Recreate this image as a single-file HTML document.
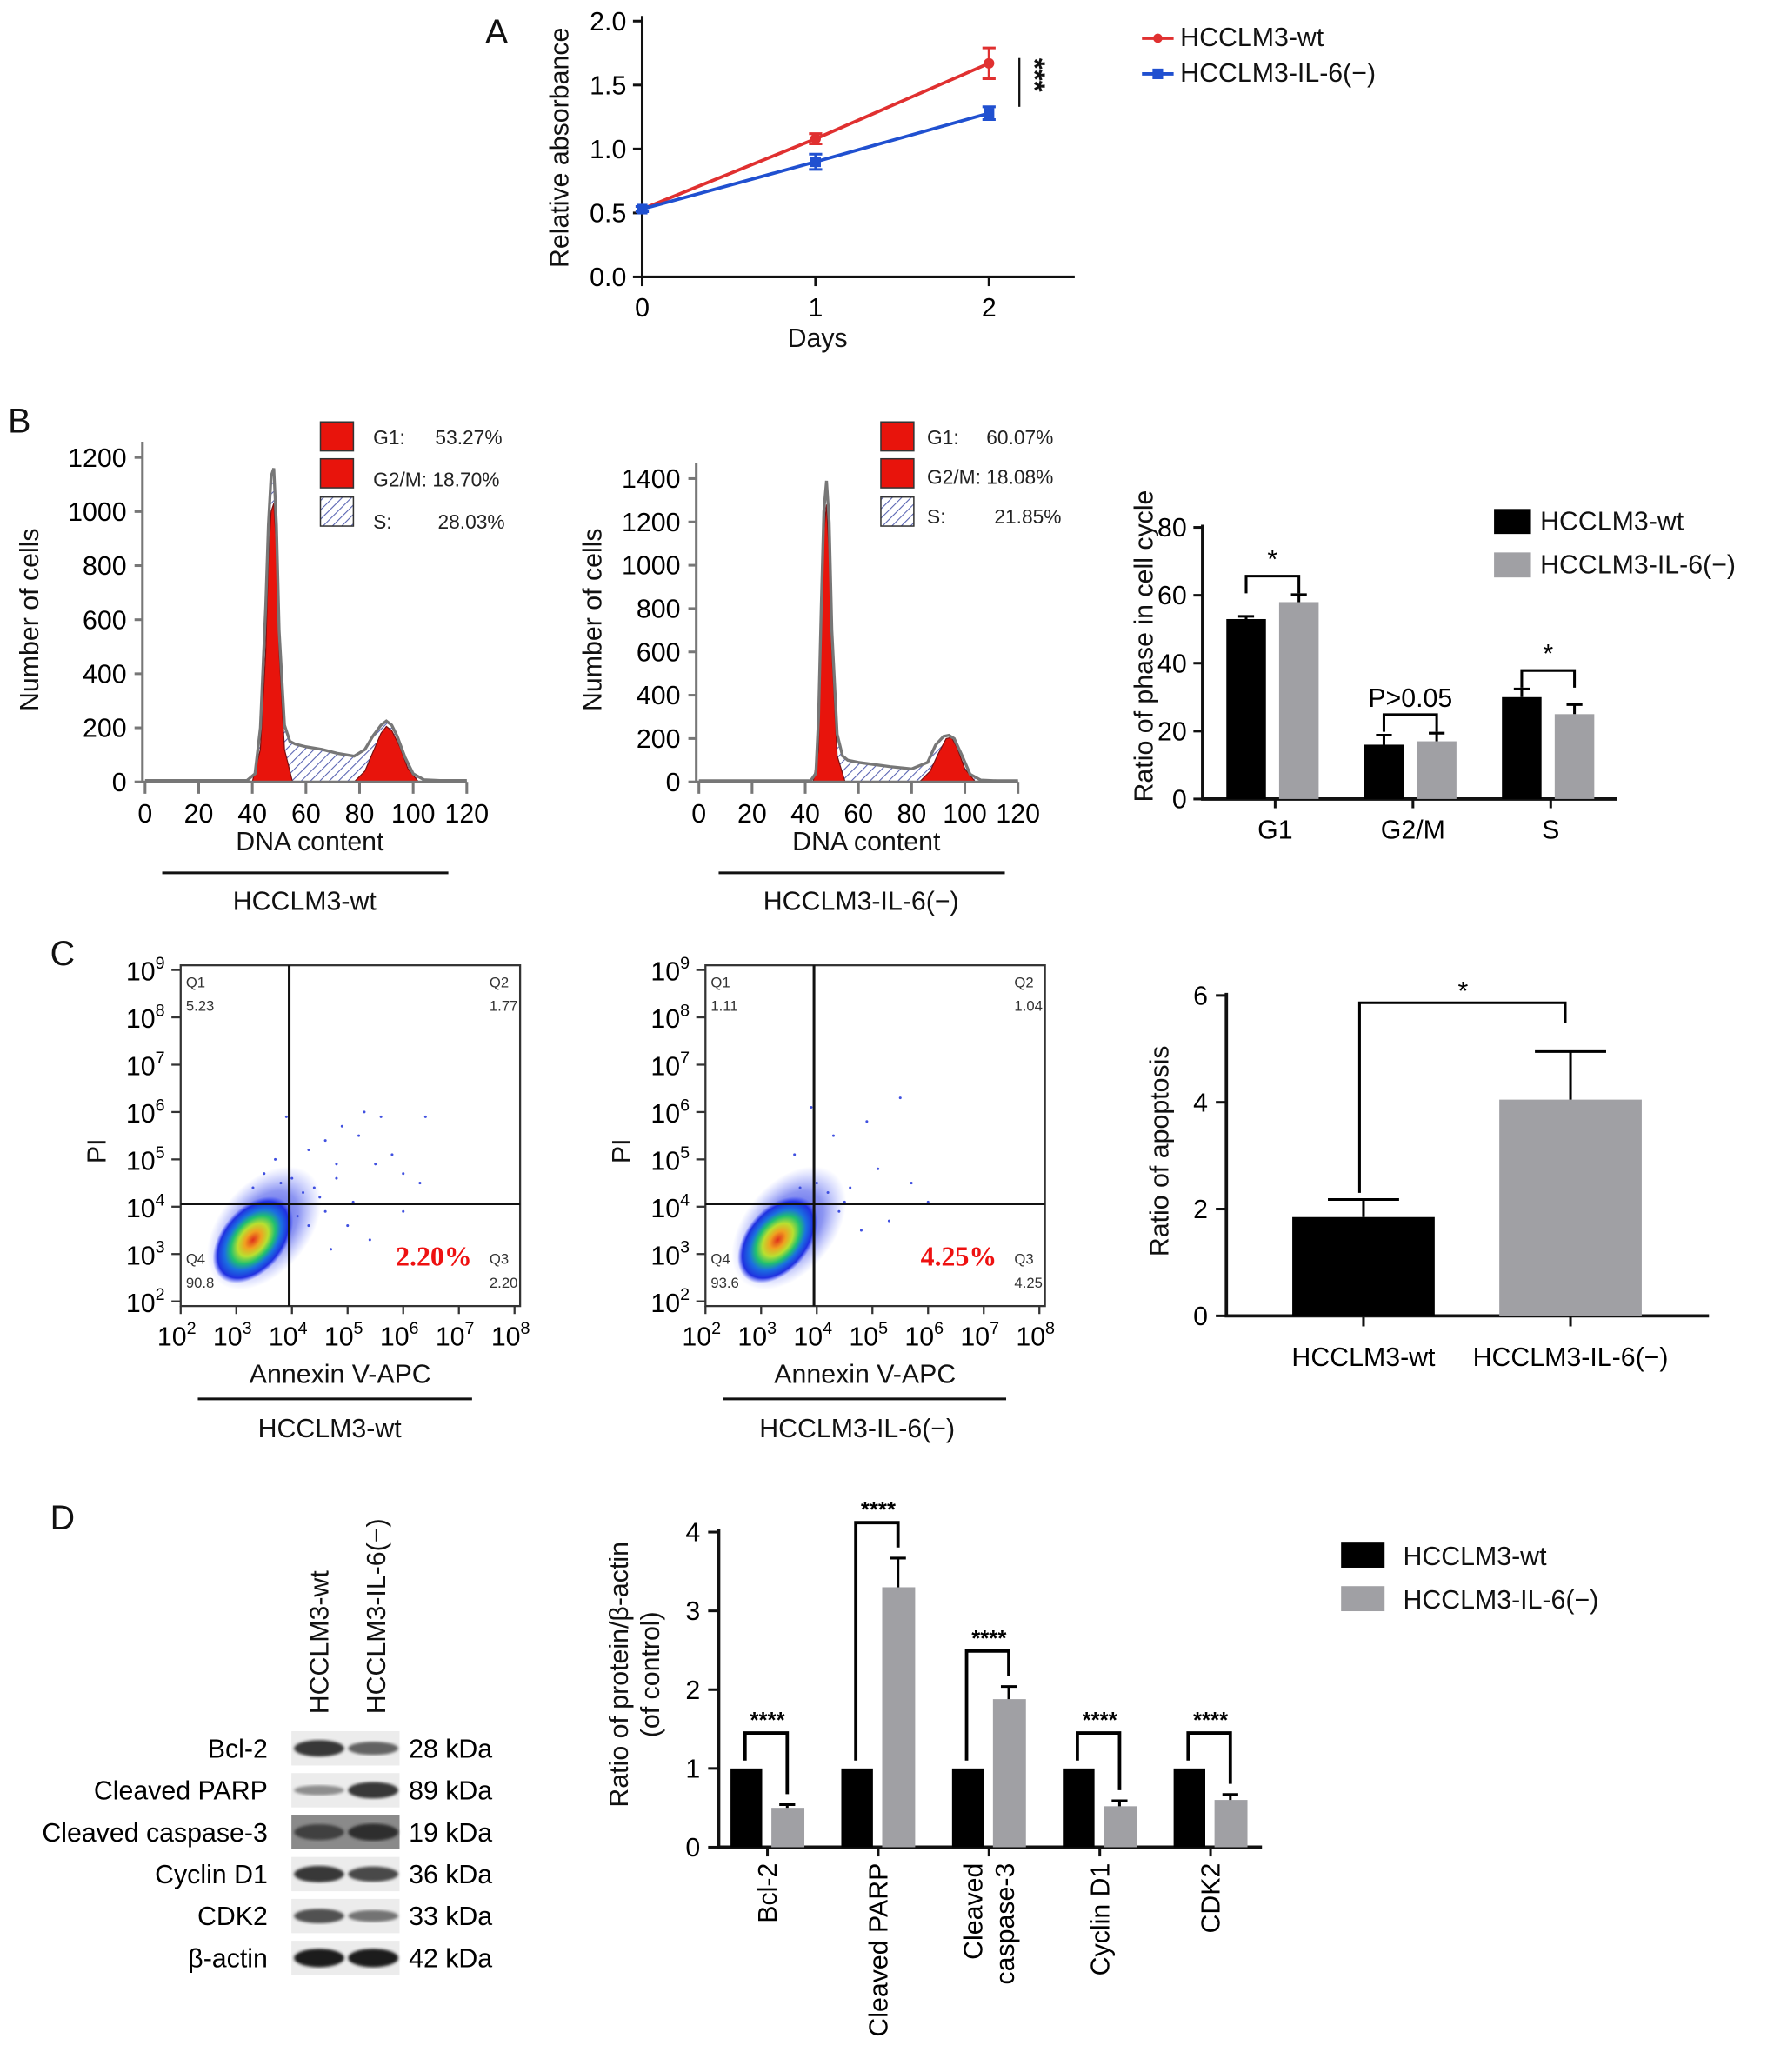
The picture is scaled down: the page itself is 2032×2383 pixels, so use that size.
<!DOCTYPE html>
<html><head><meta charset="utf-8"><style>
html,body{margin:0;padding:0;background:#fff}
svg{display:block;font-family:"Liberation Sans",Arial,sans-serif}
</style></head><body>
<svg id="fig" xmlns="http://www.w3.org/2000/svg" width="2032" height="2383" viewBox="0 0 1340 1571.5">
<defs>
<pattern id="hatch" patternUnits="userSpaceOnUse" width="5" height="5" patternTransform="rotate(45)"><rect width="5" height="5" fill="#fff"/><line x1="0" y1="0" x2="0" y2="5" stroke="#5560b0" stroke-width="1.4"/></pattern>
<filter id="blur2"><feGaussianBlur stdDeviation="2.2"/></filter>
<filter id="blur1"><feGaussianBlur stdDeviation="1"/></filter>
<radialGradient id="heat" cx="50%" cy="50%" r="50%"><stop offset="0" stop-color="#e0301c"/><stop offset="0.2" stop-color="#f0a020"/><stop offset="0.38" stop-color="#b8e030"/><stop offset="0.55" stop-color="#20c070"/><stop offset="0.7" stop-color="#1a70e0"/><stop offset="0.88" stop-color="#2030e0"/><stop offset="1" stop-color="#4050ff" stop-opacity="0"/></radialGradient>
<radialGradient id="halo" cx="50%" cy="50%" r="50%"><stop offset="0" stop-color="#2030e0" stop-opacity="0.9"/><stop offset="0.6" stop-color="#3040e8" stop-opacity="0.55"/><stop offset="1" stop-color="#6070ff" stop-opacity="0"/></radialGradient>
</defs>
<g font-size="26" fill="#111">
<text x="368" y="33">A</text>
<text x="6" y="328">B</text>
<text x="38" y="732">C</text>
<text x="38" y="1160">D</text>
</g>
<g font-size="20" fill="#111">
<text transform="translate(431,112) rotate(-90)" text-anchor="middle">Relative absorbance</text>
<text x="620" y="263" text-anchor="middle">Days</text>
<line x1="866" y1="29" x2="890" y2="29" stroke="#e03030" stroke-width="2.5"/>
<circle cx="878" cy="29" r="3.5" fill="#e03030"/>
<text x="895" y="35">HCCLM3-wt</text>
<line x1="866" y1="56" x2="890" y2="56" stroke="#2050d0" stroke-width="2.5"/>
<rect x="874" y="52" width="8" height="8" fill="#2050d0"/>
<text x="895" y="62">HCCLM3-IL-6(−)</text>
<line x1="773" y1="44" x2="773" y2="81" stroke="#111" stroke-width="1.5"/>
<text transform="translate(777,44) rotate(90)" font-size="22" font-weight="bold">***</text>
</g>
<g font-size="20" fill="#111">
<text transform="translate(29,470) rotate(-90)" text-anchor="middle">Number of cells</text>
<text x="235" y="645" text-anchor="middle">DNA content</text>
<line x1="123" y1="662" x2="340" y2="662" stroke="#111" stroke-width="2"/>
<text x="231" y="690" text-anchor="middle">HCCLM3-wt</text>
<text transform="translate(456,470) rotate(-90)" text-anchor="middle">Number of cells</text>
<text x="657" y="645" text-anchor="middle">DNA content</text>
<line x1="545" y1="662" x2="762" y2="662" stroke="#111" stroke-width="2"/>
<text x="653" y="690" text-anchor="middle">HCCLM3-IL-6(−)</text>
<text transform="translate(874,490) rotate(-90)" text-anchor="middle">Ratio of phase in cell cycle</text>
<rect x="1133" y="386" width="28" height="19" fill="#000"/>
<text x="1168" y="402">HCCLM3-wt</text>
<rect x="1133" y="419" width="28" height="19" fill="#a0a0a4"/>
<text x="1168" y="435">HCCLM3-IL-6(−)</text>
</g>
<g font-size="15" fill="#222">
<rect x="243" y="320" width="25" height="22" fill="#e8140c" stroke="#333"/>
<text x="283" y="337">G1:</text><text x="330" y="337">53.27%</text>
<rect x="243" y="348" width="25" height="22" fill="#e8140c" stroke="#333"/>
<text x="283" y="369">G2/M: 18.70%</text>
<rect x="243" y="377" width="25" height="22" fill="url(#hatch)" stroke="#333"/>
<text x="283" y="401">S:</text><text x="332" y="401">28.03%</text>
<rect x="668" y="320" width="25" height="22" fill="#e8140c" stroke="#333"/>
<text x="703" y="337">G1:</text><text x="748" y="337">60.07%</text>
<rect x="668" y="348" width="25" height="22" fill="#e8140c" stroke="#333"/>
<text x="703" y="367">G2/M: 18.08%</text>
<rect x="668" y="377" width="25" height="22" fill="url(#hatch)" stroke="#333"/>
<text x="703" y="397">S:</text><text x="754" y="397">21.85%</text>
</g>
<g font-size="20" fill="#111">
<text transform="translate(80,873) rotate(-90)" text-anchor="middle">PI</text>
<text x="258" y="1049" text-anchor="middle">Annexin V-APC</text>
<line x1="150" y1="1061" x2="358" y2="1061" stroke="#111" stroke-width="2"/>
<text x="250" y="1090" text-anchor="middle">HCCLM3-wt</text>
<text transform="translate(478,873) rotate(-90)" text-anchor="middle">PI</text>
<text x="656" y="1049" text-anchor="middle">Annexin V-APC</text>
<line x1="548" y1="1061" x2="763" y2="1061" stroke="#111" stroke-width="2"/>
<text x="650" y="1090" text-anchor="middle">HCCLM3-IL-6(−)</text>
<text transform="translate(886,873) rotate(-90)" text-anchor="middle">Ratio of apoptosis</text>
</g>
<g font-size="20" fill="#111">
<text transform="translate(249,1300) rotate(-90)">HCCLM3-wt</text>
<text transform="translate(292,1300) rotate(-90)">HCCLM3-IL-6(−)</text>
<text transform="translate(476,1270) rotate(-90)" text-anchor="middle">Ratio of protein/β-actin</text>
<text transform="translate(500,1270) rotate(-90)" text-anchor="middle">(of control)</text>
<rect x="1017" y="1170" width="33" height="19" fill="#000"/>
<text x="1064" y="1187">HCCLM3-wt</text>
<rect x="1017" y="1203" width="33" height="19" fill="#a0a0a4"/>
<text x="1064" y="1220">HCCLM3-IL-6(−)</text>
</g>
<g id="dyn"></g>
</svg>
<script>
const aDays=[0,1,2];
const aWt=[0.53,1.08,1.67];
const aWtErr=[0.02,0.04,0.12];
const aKo=[0.53,0.90,1.28];
const aKoErr=[0.02,0.06,0.05];
const aTicksY=[0,0.5,1.0,1.5,2.0];

const h1X=[0,38,41,43,45,46,47,48,49,50,52,54,56,60,66,72,78,82,85,88,90,92,94,97,100,104,110,120];
const h1Y=[5,5,30,200,650,950,1130,1160,950,560,210,150,140,130,120,105,95,120,170,210,225,210,170,90,30,8,5,5];
const h1G1X=[40,43,45,46,47,48,49,50,52,55];
const h1G1Y=[0,120,480,820,1000,1030,870,480,120,0];
const h1G2X=[78,82,85,88,90,92,95,98,102];
const h1G2Y=[0,40,110,180,205,190,130,50,0];
const h1TicksY=[0,200,400,600,800,1000,1200];
const h2X=[0,42,44,45,46,47,48,49,50,52,54,56,60,66,72,80,86,89,92,94,96,99,102,106,112,120];
const h2Y=[5,5,40,300,800,1250,1390,1200,700,220,120,100,90,80,70,60,90,170,210,215,200,120,35,8,5,5];
const h2G1X=[43,45,46,47,48,49,50,52,55];
const h2G1Y=[0,150,700,1150,1280,1050,600,120,0];
const h2G2X=[83,87,90,93,95,97,100,104];
const h2G2Y=[0,50,130,200,205,160,60,0];
const h2TicksY=[0,200,400,600,800,1000,1200,1400];
const hTicksX=[0,20,40,60,80,100,120];

const phases=['G1','G2/M','S'];
const bWt=[53,16,30];
const bWtErr=[0.8,2.8,2.4];
const bKo=[58,17,25];
const bKoErr=[2.2,2.4,2.8];
const bTicksY=[0,20,40,60,80];
const bSigLabels=['*','P>0.05','*'];

const logTicksX=[2,3,4,5,6,7,8];
const logTicksY=[2,3,4,5,6,7,8,9];
const s1Dots=[[4.9,5.7],[5.3,6.0],[5.6,5.9],[4.6,5.4],[5.2,5.5],[6.4,5.9],[5.8,5.1],[4.3,5.2],[3.9,5.9],[6.0,4.7],[5.5,4.9],[4.8,4.6],[6.3,4.5],[5.0,3.6],[5.4,3.3],[4.7,3.1],[6.0,3.9],[4.4,4.4],[3.5,4.7],[3.7,5.0],[4.2,4.3],[4.5,4.2],[4.1,3.8],[4.3,3.6],[3.8,4.5],[4.6,3.9],[4.0,4.6],[5.1,4.1],[3.3,4.4],[4.8,4.9]];
const s2Dots=[[4.9,5.8],[3.9,6.1],[5.5,6.3],[4.3,5.5],[5.1,4.8],[5.7,4.5],[4.6,4.4],[3.6,5.1],[5.3,3.7],[4.8,3.5],[6.0,4.1],[4.2,4.3],[4.4,3.9],[4.0,4.5],[3.7,4.4],[4.5,4.1]];
const cGroups=['HCCLM3-wt','HCCLM3-IL-6(−)'];
const cVals=[1.85,4.05];
const cErrs=[0.33,0.9];
const cTicksY=[0,2,4,6];

const proteins=['Bcl-2','Cleaved PARP','Cleaved caspase-3','Cyclin D1','CDK2'];
const dWt=[1,1,1,1,1];
const dKo=[0.50,3.30,1.88,0.52,0.60];
const dKoErr=[0.04,0.37,0.16,0.07,0.07];
const dTicksY=[0,1,2,3,4];
const blotNames=['Bcl-2','Cleaved PARP','Cleaved caspase-3','Cyclin D1','CDK2','β-actin'];
const blotKda=['28 kDa','89 kDa','19 kDa','36 kDa','33 kDa','42 kDa'];
const blotWt=[0.85,0.35,0.8,0.85,0.7,1.0];
const blotKo=[0.6,0.85,0.9,0.75,0.5,1.0];

const NS='http://www.w3.org/2000/svg';
const root=document.getElementById('dyn');
function el(tag,a,p){const e=document.createElementNS(NS,tag);for(const k in a)e.setAttribute(k,a[k]);(p||root).appendChild(e);return e;}
function txt(s,a){const e=el('text',a);e.textContent=s;return e;}
const FS=20;

const xA=d=>487+d*131.5, yA=v=>210-v*97;
let e=el('path',{d:'M487,12 V210 H815',fill:'none',stroke:'#111','stroke-width':2});


aTicksY.forEach(t=>{
  e=el('line',{x1:480,x2:487,y1:yA(t),y2:yA(t),stroke:'#111','stroke-width':2});
  
  
  e=txt(t.toFixed(1),{x:475,y:yA(t)+7,'text-anchor':'end','font-size':FS});
  
  
});
aDays.forEach(d=>{
  e=el('line',{x1:xA(d),x2:xA(d),y1:210,y2:217,stroke:'#111','stroke-width':2});
  
  
  e=txt(String(d),{x:xA(d),y:240,'text-anchor':'middle','font-size':FS});
  
  
});
[[aWt,aWtErr,'#e03030','wt'],[aKo,aKoErr,'#2050d0','ko']].forEach(([v,er,c,n])=>{
  e=el('polyline',{points:aDays.map((d,i)=>xA(d)+','+yA(v[i])).join(' '),fill:'none',stroke:c,'stroke-width':2.5});
  
  
  aDays.forEach((d,i)=>{
    e=el('path',{d:`M${xA(d)-5},${yA(v[i]+er[i])}H${xA(d)+5}M${xA(d)},${yA(v[i]+er[i])}V${yA(v[i]-er[i])}M${xA(d)-5},${yA(v[i]-er[i])}H${xA(d)+5}`,stroke:c,'stroke-width':2,fill:'none'});
    
    
    e=n==='wt'?el('circle',{cx:xA(d),cy:yA(v[i]),r:4,fill:c}):el('rect',{x:xA(d)-4,y:yA(v[i])-4,width:8,height:8,fill:c});
    
    
  });
});

function hist(id,x0,x1,y0,yMax,yTop,ticksY,X,Y,G1X,G1Y,G2X,G2Y){
  const sx=v=>x0+v*(x1-x0)/120, sy=v=>y0-v*(y0-yTop)/yMax;
  const env='M'+X.map((x,i)=>sx(x)+','+sy(Y[i])).join(' L');
  e=el('path',{d:env+` L${sx(120)},${y0} L${sx(0)},${y0}Z`,fill:'url(#hatch)',stroke:'none'});
  
  
  [[G1X,G1Y,'g1'],[G2X,G2Y,'g2m']].forEach(([gx,gy,n])=>{
    e=el('path',{d:'M'+gx.map((x,i)=>sx(x)+','+sy(gy[i])).join(' L')+'Z',fill:'#e8140c',stroke:'#7a1010','stroke-width':0.8});
    
    
  });
  e=el('path',{d:env,fill:'none',stroke:'#777','stroke-width':2.2});
  
  
  e=el('path',{d:`M${x0-2},${yTop-12} V${y0} H${x1}`,fill:'none',stroke:'#777','stroke-width':2});
  
  
  ticksY.forEach(t=>{
    e=el('line',{x1:x0-8,x2:x0-2,y1:sy(t),y2:sy(t),stroke:'#777','stroke-width':2});
    
    
    e=txt(String(t),{x:x0-14,y:sy(t)+7,'text-anchor':'end','font-size':FS});
    
    
  });
  hTicksX.forEach(t=>{
    e=el('line',{x1:sx(t),x2:sx(t),y1:y0,y2:y0+9,stroke:'#777','stroke-width':2});
    
    
    e=txt(String(t),{x:sx(t),y:y0+31,'text-anchor':'middle','font-size':FS});
    
    
  });
}
hist('hist1',110,354,593,1200,347,h1TicksY,h1X,h1Y,h1G1X,h1G1Y,h1G2X,h1G2Y);
hist('hist2',530,772,593,1400,363,h2TicksY,h2X,h2Y,h2G1X,h2G1Y,h2G2X,h2G2Y);

const yB=v=>606-v*2.575, cB=i=>967+i*104.5;
e=el('path',{d:'M912,398 V606 H1226',fill:'none',stroke:'#111','stroke-width':2.5});


bTicksY.forEach(t=>{
  e=el('line',{x1:905,x2:912,y1:yB(t),y2:yB(t),stroke:'#111','stroke-width':2});
  
  
  e=txt(String(t),{x:900,y:yB(t)+7,'text-anchor':'end','font-size':FS});
  
  
});
phases.forEach((p,i)=>{
  const c=cB(i);
  [[bWt,bWtErr,c-37,'#000','wt'],[bKo,bKoErr,c+3,'#a0a0a4','ko']].forEach(([v,er,x,col,n])=>{
    e=el('rect',{x:x,y:yB(v[i]),width:30,height:606-yB(v[i]),fill:col});
    
    
    e=el('path',{d:`M${x+15},${yB(v[i])}V${yB(v[i]+er[i])}M${x+9},${yB(v[i]+er[i])}H${x+21}`,stroke:'#000','stroke-width':2,fill:'none'});
    
    
  });
  const top=yB(Math.max(bWt[i]+bWtErr[i],bKo[i]+bKoErr[i]))-14;
  e=el('path',{d:`M${c-22},${top+13}V${top}H${c+18}V${top+13}`,stroke:'#000','stroke-width':2,fill:'none'});
  
  
  e=txt(bSigLabels[i],{x:c-2,y:top-6,'text-anchor':'middle','font-size':FS});
  
  
  e=el('line',{x1:c,x2:c,y1:606,y2:613,stroke:'#111','stroke-width':2});
  
  
  e=txt(p,{x:c,y:636,'text-anchor':'middle','font-size':FS});
  
  
});

function scatter(id,x0,y0,dots,pct,q){
  const sx=v=>x0+(v-2)*42.2, sy=v=>y0-(v-2)*35.9;
  e=el('rect',{x:sx(2),y:sy(9.1),width:sx(8.1)-sx(2),height:sy(1.9)-sy(9.1),fill:'#fff',stroke:'#333','stroke-width':1.5});
  
  
  e=el('ellipse',{cx:sx(3.5),cy:sy(3.55),rx:54,ry:34,fill:'url(#halo)',transform:`rotate(-50 ${sx(3.5)} ${sy(3.55)})`});
  
  
  e=el('ellipse',{cx:sx(3.3),cy:sy(3.3),rx:38,ry:24,fill:'url(#heat)',transform:`rotate(-50 ${sx(3.3)} ${sy(3.3)})`});
  
  
  dots.forEach(d=>{
    e=el('circle',{cx:sx(d[0]),cy:sy(d[1]),r:1,fill:'#4050e0'});
    
    
  });
  e=el('path',{d:`M${sx(3.95)},${sy(9.1)}V${sy(1.9)}M${sx(2)},${sy(4.06)}H${sx(8.1)}`,stroke:'#111','stroke-width':2,fill:'none'});
  
  
  logTicksY.forEach(t=>{
    e=el('line',{x1:x0-7,x2:x0,y1:sy(t),y2:sy(t),stroke:'#333','stroke-width':1.5});
    
    
    e=el('text',{x:x0-12,y:sy(t)+8,'text-anchor':'end','font-size':FS});
    e.innerHTML='10<tspan font-size="13" dy="-9">'+t+'</tspan>';
    
    
  });
  logTicksX.forEach(t=>{
    e=el('line',{x1:sx(t),x2:sx(t),y1:sy(1.9),y2:sy(1.9)+6,stroke:'#333','stroke-width':1.5});
    
    
    e=el('text',{x:sx(t)-3,y:sy(1.9)+30,'text-anchor':'middle','font-size':FS});
    e.innerHTML='10<tspan font-size="13" dy="-9">'+t+'</tspan>';
    
    
  });
  const qa=[['Q1',sx(2)+4,sy(8.75)],[q[0],sx(2)+4,sy(8.25)],['Q2',sx(7.55),sy(8.75)],[q[1],sx(7.55),sy(8.25)],['Q4',sx(2)+4,sy(2.9)],[q[3],sx(2)+4,sy(2.4)],['Q3',sx(7.55),sy(2.9)],[q[2],sx(7.55),sy(2.4)]];
  qa.forEach(a=>{
    e=txt(a[0],{x:a[1],y:a[2]+4,'font-size':11,fill:'#333'});
    
    
  });
  e=txt(pct,{x:sx(6.55),y:sy(2.95)+7,'text-anchor':'middle','font-size':21,'font-weight':'bold',fill:'#ee1111','font-family':'Liberation Serif, serif'});
  
  
}
scatter('scatter1',137,987,s1Dots,'2.20%',['5.23','1.77','2.20','90.8']);
scatter('scatter2',535,987,s2Dots,'4.25%',['1.11','1.04','4.25','93.6']);

const yC=v=>998-v*40.5, cC=i=>1034+i*157;
e=el('path',{d:'M930,753 V998 H1296',fill:'none',stroke:'#111','stroke-width':2.5});


cTicksY.forEach(t=>{
  e=el('line',{x1:922,x2:930,y1:yC(t),y2:yC(t),stroke:'#111','stroke-width':2});
  
  
  e=txt(String(t),{x:916,y:yC(t)+7,'text-anchor':'end','font-size':FS});
  
  
});
cGroups.forEach((g,i)=>{
  const c=cC(i);
  e=el('rect',{x:c-54,y:yC(cVals[i]),width:108,height:998-yC(cVals[i]),fill:i?'#a0a0a4':'#000'});
  
  
  e=el('path',{d:`M${c},${yC(cVals[i])}V${yC(cVals[i]+cErrs[i])}M${c-27},${yC(cVals[i]+cErrs[i])}H${c+27}`,stroke:'#000','stroke-width':2,fill:'none'});
  
  
  e=el('line',{x1:c,x2:c,y1:998,y2:1006,stroke:'#111','stroke-width':2});
  
  
  e=txt(g,{x:c,y:1036,'text-anchor':'middle','font-size':FS});
  
  
});
{const top=yC(Math.max(cVals[0]+cErrs[0],cVals[1]+cErrs[1]))-37;
e=el('path',{d:`M${cC(0)-3},${yC(cVals[0]+cErrs[0])-5}V${top}H${cC(1)-4}V${top+15}`,stroke:'#000','stroke-width':2,fill:'none'});


e=txt('*',{x:(cC(0)+cC(1))/2-3,y:top-2,'text-anchor':'middle','font-size':FS});

}

blotNames.forEach((n,i)=>{
  const y=1326+i*31.8;
  e=el('rect',{x:221,y:y-13,width:82,height:26,fill:i===2?'#8a8a8a':'#ececec'});
  
  
  [[blotWt[i],242],[blotKo[i],283]].forEach(([s,cx])=>{
    const g=Math.round(200-170*s);
    e=el('ellipse',{cx:cx,cy:y,rx:19,ry:2+5*s,fill:`rgb(${g},${g},${g})`,filter:'url(#blur1)'});
    
    
  });
  e=txt(n,{x:203,y:y+7,'text-anchor':'end','font-size':FS});
  
  
  e=txt(blotKda[i],{x:310,y:y+7,'font-size':FS});
  
  
});

const yD=v=>1401-v*59.75, cD=i=>582+i*84;
e=el('path',{d:'M545,1160 V1401 H957',fill:'none',stroke:'#111','stroke-width':2.5});


dTicksY.forEach(t=>{
  e=el('line',{x1:537,x2:545,y1:yD(t),y2:yD(t),stroke:'#111','stroke-width':2});
  
  
  e=txt(String(t),{x:531,y:yD(t)+7,'text-anchor':'end','font-size':FS});
  
  
});
proteins.forEach((p,i)=>{
  const c=cD(i);
  e=el('rect',{x:c-28,y:yD(dWt[i]),width:24,height:1401-yD(dWt[i]),fill:'#000'});
  
  
  e=el('rect',{x:c+3,y:yD(dKo[i]),width:25,height:1401-yD(dKo[i]),fill:'#a0a0a4'});
  
  
  e=el('path',{d:`M${c+15},${yD(dKo[i])}V${yD(dKo[i]+dKoErr[i])}M${c+9},${yD(dKo[i]+dKoErr[i])}H${c+21}`,stroke:'#000','stroke-width':2,fill:'none'});
  
  
  const top=yD(Math.max(dWt[i],dKo[i]+dKoErr[i])+0.45);
  e=el('path',{d:`M${c-17},${yD(dWt[i])-6}V${top}H${c+15}V${yD(dKo[i]+dKoErr[i])-8}`,stroke:'#000','stroke-width':2.5,fill:'none'});
  
  
  e=txt('****',{x:c,y:top-4,'text-anchor':'middle','font-size':17,'font-weight':'bold'});
  
  
  e=el('line',{x1:c,x2:c,y1:1401,y2:1408,stroke:'#111','stroke-width':2});
  
  
  const parts=p==='Cleaved caspase-3'?['Cleaved','caspase-3']:[p];
  parts.forEach((s,k)=>{
    const lx=c+7-(parts.length-1)*12+k*24;
    e=txt(s,{transform:`translate(${lx},1413) rotate(-90)`,'text-anchor':'end','font-size':FS});
    
    
  });
});
</script>
</body></html>
